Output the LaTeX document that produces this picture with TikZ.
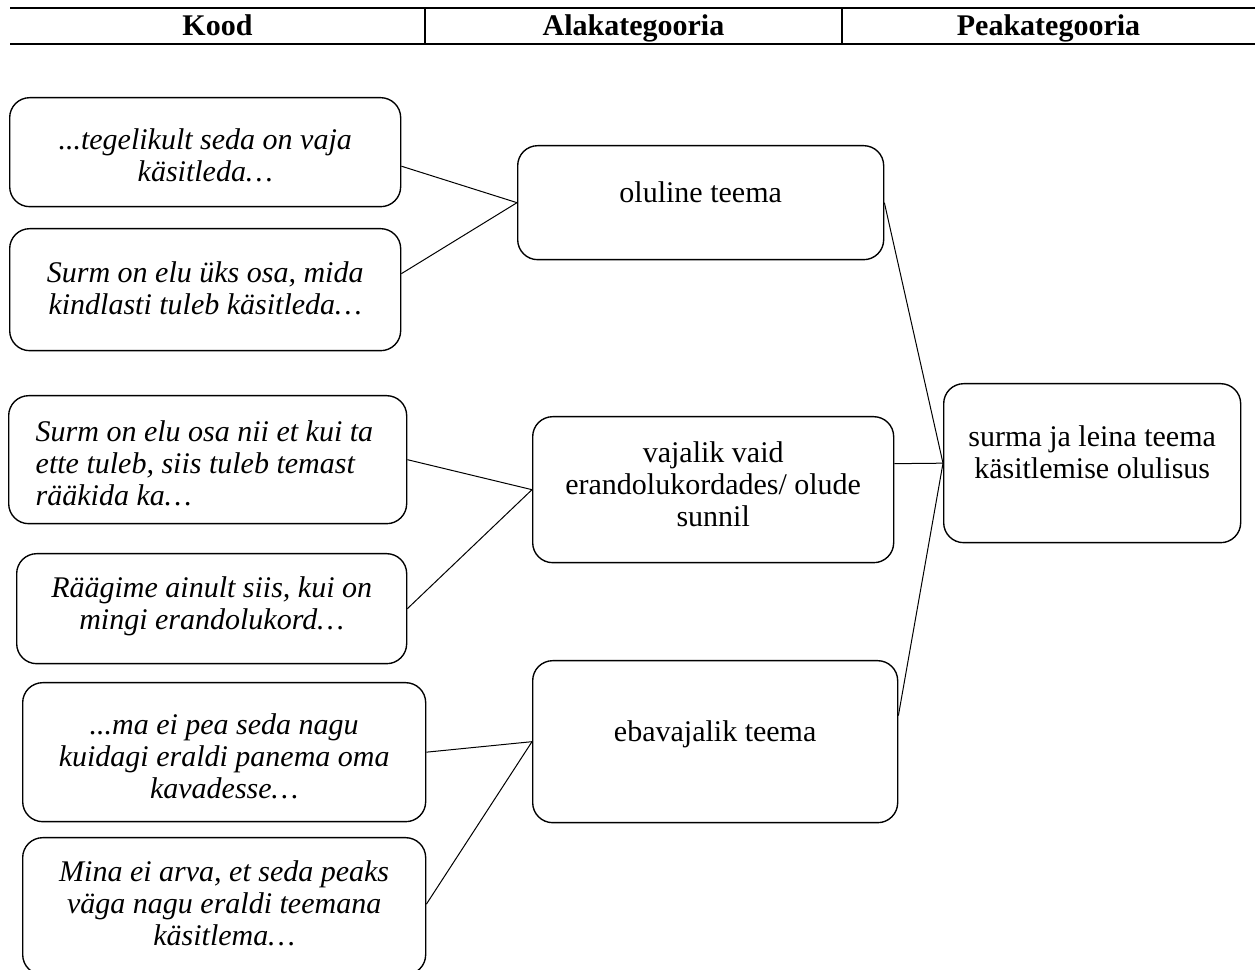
\documentclass[tikz,border=0pt]{standalone}
\usepackage{fontspec}
\setmainfont{Liberation Serif}
\usetikzlibrary{calc}
\newdimen\pxu \pxu=0.4pt
\newcommand{\sisu}[5][\centering]{\parbox[c][#3\pxu][t]{#2\pxu}{#1\vspace*{#4\pxu}\strut#5}}
\tikzset{
  kast/.style={draw, rounded corners=8pt, inner sep=0pt, line width=0.55pt, anchor=north west},
  seos/.style={line width=0.4pt},
  pealkiri/.style={font=\fontsize{12}{14}\selectfont\bfseries, anchor=base}
}
\begin{document}
\begin{tikzpicture}[x=0.4pt,y=-0.4pt,font=\fontsize{12}{12.8}\selectfont]
\useasboundingbox (0,0) rectangle (1255,970);
\draw[line width=0.75pt] (10,8) -- (1255,8);
\draw[line width=0.75pt] (10,44) -- (1255,44);
\draw[line width=0.75pt] (425,8) -- (425,44);
\draw[line width=0.75pt] (842,8) -- (842,44);
\node[pealkiri] (kood) at (217.5,36) {Kood};
\node[pealkiri] (ala) at (633.5,36) {Alakategooria};
\node[pealkiri] (pea) at (1048.5,36) {Peakategooria};

\node[kast] (k1) at (9,97) {\sisu{391}{109}{29}{\itshape ...tegelikult seda on vaja\\ käsitleda…}};
\node[kast] (k2) at (9,228) {\sisu{391}{122}{31}{\itshape Surm on elu üks osa, mida\\ kindlasti tuleb käsitleda…}};
\node[kast] (k3) at (8,395) {\sisu[\raggedright\leftskip=27\pxu]{398}{128}{23}{\itshape Surm on elu osa nii et kui ta\\ ette tuleb, siis tuleb temast\\ rääkida ka…}};
\node[kast] (k4) at (16,553) {\sisu{390}{110}{21}{\itshape Räägime ainult siis, kui on\\ mingi erandolukord…}};
\node[kast] (k5) at (22,682) {\sisu{403}{139}{29}{\itshape ...ma ei pea seda nagu\\ kuidagi eraldi panema oma\\ kavadesse…}};
\node[kast] (k6) at (22,837) {\sisu{403}{137}{21}{\itshape Mina ei arva, et seda peaks\\ väga nagu eraldi teemana\\ käsitlema…}};

\node[kast] (ol) at (517,145) {\sisu{366}{114}{34}{oluline teema}};
\node[kast] (va) at (532,416) {\sisu{361}{146}{23}{vajalik vaid\\ erandolukordades/ olude\\ sunnil}};
\node[kast] (eb) at (532,660) {\sisu{365}{162}{58}{ebavajalik teema}};

\node[kast] (pk) at (943,383) {\sisu{297}{159}{40}{surma ja leina teema\\ käsitlemise olulisus}};

\draw[seos] ($(k1.east)+(0,14)$) -- (ol.west);
\draw[seos] ($(k2.east)+(0,-16)$) -- (ol.west);
\draw[seos] (k3.east) -- (va.west);
\draw[seos] (k4.east) -- (va.west);
\draw[seos] (k5.east) -- (eb.west);
\draw[seos] ($(k6.east)+(0,-2)$) -- (eb.west);
\draw[seos] (ol.east) -- (pk.west);
\draw[seos] ($(va.east)+(0,-26)$) -- (pk.west);
\draw[seos] ($(eb.east)+(0,-26)$) -- (pk.west);
\end{tikzpicture}
\end{document}
